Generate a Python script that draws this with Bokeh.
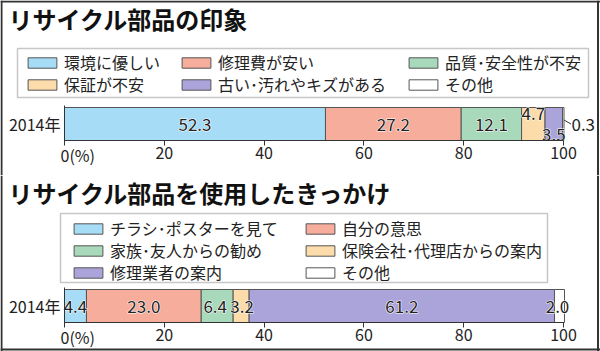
import numpy as np
from bokeh.plotting import figure
from bokeh.models import (ColumnDataSource, Range1d, LinearAxis, FixedTicker, Legend,
                          LegendItem, Label, Span, BoxAnnotation)
from bokeh.layouts import column
from bokeh.core.properties import value
from bokeh.embed import file_html
from bokeh.resources import INLINE

# ---------------- data ----------------
years = ["2014年"]
ticks = [0, 20, 40, 60, 80, 100]

impression_title = "リサイクル部品の印象"
impression_cats = ["環境に優しい", "修理費が安い", "品質･安全性が不安",
                   "保証が不安", "古い･汚れやキズがある", "その他"]
impression_vals = [52.3, 27.2, 12.1, 4.7, 3.5, 0.3]

trigger_title = "リサイクル部品を使用したきっかけ"
trigger_cats = ["チラシ･ポスターを見て", "自分の意思", "家族･友人からの勧め",
                "保険会社･代理店からの案内", "修理業者の案内", "その他"]
trigger_vals = [4.4, 23.0, 6.4, 3.2, 61.2, 2.0]

# ---------------- style ----------------
colors = ["#a6dcf6", "#f7ad9c", "#a8d9ba", "#fcdcaa", "#aba4da", "#ffffff"]
JP = "Noto Sans CJK JP"
NUM = "Noto Sans CJK JP"
W = 600
X0_PX, X100_PX = 64, 563
PPU = (X100_PX - X0_PX) / 100.0
XS, XE = -X0_PX / PPU, (W - X0_PX) / PPU
EDGE = "#555555"
ITEM_H = 26


def build(title, cats, vals, H, title_cy, box, col_xs, row_ys, ncols, bar_top, bar_bot,
          dxs, dys, leader, top_border):
    bh = bar_bot - bar_top
    bc = (bar_top + bar_bot) / 2.0
    p = figure(width=W, height=H, x_range=Range1d(XS, XE),
               y_range=Range1d(-(H - bc) / bh, bc / bh),
               x_axis_type=None, y_axis_type=None, toolbar_location=None,
               output_backend="svg", min_border=0, outline_line_color=None)
    p.background_fill_color = "white"
    p.border_fill_color = "white"

    vals = np.array(vals, dtype=float)
    rights = np.cumsum(vals)
    lefts = rights - vals
    yi = years.index("2014年")
    src = ColumnDataSource(dict(
        cat=cats, left=lefts, right=rights, y=[yi] * len(vals), color=colors,
        mid=(lefts + rights) / 2.0, label=[f"{v:.1f}" for v in vals],
        dx=dxs, dy=dys))

    # outer box of the legend
    bl, bt, br, bb = box
    p.add_layout(BoxAnnotation(left=bl, right=br, top=H - bt, bottom=H - bb,
                               left_units="screen", right_units="screen",
                               top_units="screen", bottom_units="screen",
                               fill_color="white", fill_alpha=1.0,
                               line_color="#444444", line_width=1.5))

    r = p.hbar(y="y", left="left", right="right", height=1, fill_color="color",
               line_color=EDGE, line_width=1, source=src)

    if leader is not None:
        i = leader
        p.segment(x0=[rights[i]], y0=[yi + 4.0 / bh], x1=[rights[i] + 7.0 / PPU], y1=[yi],
                  line_color="#333333", line_width=1)

    # value labels: white halo, then dark text
    common = dict(x="mid", y="y", text="label", x_offset="dx", y_offset="dy", source=src,
                  text_font=value(NUM), text_font_size="17px", text_align="center",
                  text_baseline="middle")
    p.text(text_color="white", text_outline_color="white", **common)
    p.text(text_color="#222222", **common)

    # x axis at the bar's bottom edge
    xa = LinearAxis(fixed_location=yi - 0.5, bounds=(0, 100),
                    ticker=FixedTicker(ticks=ticks),
                    major_label_overrides={0: ""})
    xa.axis_line_color = "#333333"
    xa.major_tick_line_color = "#333333"
    xa.major_tick_out = 5
    xa.major_tick_in = 0
    xa.minor_tick_out = 0
    xa.minor_tick_in = 0
    xa.major_label_standoff = 1
    xa.major_label_text_font = NUM
    xa.major_label_text_font_size = "16px"
    xa.major_label_text_color = "#222222"
    p.add_layout(xa, "below")
    p.add_layout(Label(x=0, y=yi - 0.5, text="0(%)", x_offset=-4, y_offset=-2,
                       text_align="left", text_baseline="top", text_font=NUM,
                       text_font_size="16px", text_color="#222222"))

    # y axis at x = 0
    ya = LinearAxis(fixed_location=0, bounds=(yi - 0.5 - 3.0 / bh, yi + 0.5 + 2.0 / bh),
                    ticker=FixedTicker(ticks=[yi]),
                    major_label_overrides={yi: years[yi]})
    ya.axis_line_color = "#333333"
    ya.major_tick_out = 0
    ya.major_tick_in = 0
    ya.minor_tick_out = 0
    ya.minor_tick_in = 0
    ya.major_label_standoff = 4
    ya.major_label_orientation = "horizontal"
    ya.major_label_text_font = NUM
    ya.major_label_text_font_size = "16px"
    ya.major_label_text_color = "#222222"
    p.add_layout(ya, "left")

    # legend: one entry per category, laid out row by row
    for i, cat in enumerate(cats):
        x = col_xs[i % ncols]
        rc = row_ys[i // ncols]
        lg = Legend(items=[LegendItem(label=cat, renderers=[r], index=i)],
                    location=(x, H - (rc + ITEM_H / 2.0)), orientation="vertical",
                    border_line_color=None, background_fill_alpha=0.0,
                    padding=0, margin=0, spacing=0, glyph_width=36, glyph_height=13,
                    label_standoff=4, label_height=ITEM_H,
                    label_text_font=JP, label_text_font_size="16px",
                    label_text_color="#222222")
        p.add_layout(lg, "center")

    # title
    p.add_layout(Label(x=8, y=H - title_cy, x_units="screen", y_units="screen",
                       text=title, text_font=JP, text_font_size="24px",
                       text_font_style="bold", text_baseline="middle",
                       text_color="#111111"))

    # picture border
    p.add_layout(Span(location=1, location_units="screen", dimension="height",
                      line_color="#333333", line_width=2))
    p.add_layout(Span(location=597.5, location_units="screen", dimension="height",
                      line_color="#333333", line_width=2))
    p.add_layout(Span(location=top_border, location_units="screen", dimension="width",
                      line_color="#333333", line_width=2))
    return p


p1 = build(impression_title, impression_cats, impression_vals, H=175, title_cy=18,
           box=(17, 48, 588, 97), col_xs=[24, 178, 405], row_ys=[62, 84], ncols=3,
           bar_top=107, bar_bot=140,
           dxs=[0, 0, 0, 0, 0, 20], dys=[0, 0, 0, -11, 10, 0], leader=5,
           top_border=174)

p2 = build(trigger_title, trigger_cats, trigger_vals, H=176, title_cy=17,
           box=(60, 38, 547, 107), col_xs=[70, 302], row_ys=[53, 75, 97], ncols=2,
           bar_top=114, bar_bot=147,
           dxs=[0, 0, -2, 1, 0, -2], dys=[0, 0, 0, 0, 0, 0], leader=None,
           top_border=2)

layout = column(p1, p2, spacing=0)
open("out.html", "w").write(file_html(layout, INLINE))
